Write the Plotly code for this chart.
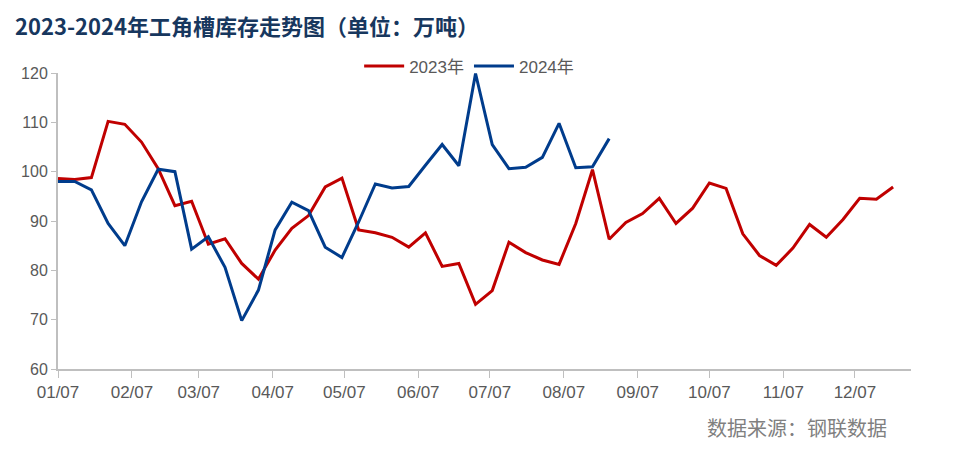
import plotly.graph_objects as go
import pandas as pd

dates = pd.date_range("2023-01-07", periods=51, freq="7D").strftime("%Y-%m-%d").tolist()

vals_2023 = [98.6, 98.4, 98.8, 110.2, 109.6, 106.0, 100.6, 93.1, 94.0, 85.3,
             86.4, 81.4, 78.2, 84.1, 88.5, 91.1, 96.9, 98.7, 88.2, 87.6,
             86.7, 84.7, 87.6, 80.8, 81.4, 73.1, 75.9, 85.7, 83.6, 82.1,
             81.2, 89.5, 100.4, 86.3, 89.7, 91.5, 94.6, 89.5, 92.6, 97.7,
             96.6, 87.4, 83.0, 81.0, 84.5, 89.3, 86.7, 90.3, 94.6, 94.4,
             96.9]

vals_2024 = [98.0, 98.0, 96.3, 89.5, 85.0, 93.9, 100.5, 100.0, 84.3, 86.8,
             80.6, 69.8, 76.0, 88.2, 93.8, 92.1, 84.7, 82.6, 89.8, 97.5,
             96.7, 97.0, 101.3, 105.5, 101.2, 119.9, 105.5, 100.6, 100.9, 102.9,
             109.8, 100.8, 101.0, 106.7]

tick_vals = ["2023-%02d-07" % m for m in range(1, 13)]
tick_text = ["%02d/07" % m for m in range(1, 13)]

fig = go.Figure()
fig.add_trace(go.Scatter(x=dates, y=vals_2023, mode="lines", name="2023年",
                         line=dict(color="#C00000", width=3)))
fig.add_trace(go.Scatter(x=dates[:len(vals_2024)], y=vals_2024, mode="lines", name="2024年",
                         line=dict(color="#003C8C", width=3)))

fig.update_layout(
    width=958, height=457,
    margin=dict(l=58, r=47, t=73, b=88),
    paper_bgcolor="white", plot_bgcolor="white",
    title=dict(text="<b>2023-2024年工角槽库存走势图（单位：万吨）</b>",
               x=15/958, xanchor="left", y=1-27/457, yanchor="middle",
               font=dict(family="Noto Sans CJK SC", size=22, color="#17375E")),
    legend=dict(orientation="h", x=0.482, xanchor="center", y=1.022, yanchor="middle",
                font=dict(family="Liberation Sans, Noto Sans CJK SC", size=17, color="#595959"),
                bgcolor="rgba(0,0,0,0)", itemwidth=40, tracegroupgap=0),
    showlegend=True,
)
fig.update_xaxes(type="date", range=["2023-01-07", "2023-12-30 12:00"],
                 tickmode="array", tickvals=tick_vals, ticktext=tick_text,
                 showgrid=False, showline=True, linecolor="#BFBFBF", linewidth=2,
                 ticks="outside", ticklen=7, tickcolor="#BFBFBF", tickwidth=1,
                 tickfont=dict(family="Liberation Sans, Arial, sans-serif", size=17, color="#595959"),
                 zeroline=False)
fig.update_yaxes(range=[60, 120], tickvals=[60, 70, 80, 90, 100, 110, 120],
                 showgrid=False, showline=True, linecolor="#BFBFBF", linewidth=2,
                 ticks="outside", ticklen=5, tickcolor="#BFBFBF", tickwidth=1,
                 tickfont=dict(family="Liberation Sans, Arial, sans-serif", size=16, color="#595959"),
                 zeroline=False)
fig.add_annotation(text="数据来源：钢联数据", xref="paper", yref="paper",
                   x=(889-58)/(958-58-47), xanchor="right",
                   y=(369.3-428)/296.3, yanchor="middle", showarrow=False,
                   font=dict(family="Noto Sans CJK SC", size=20, color="#808080"))

fig.write_html("out.html")
